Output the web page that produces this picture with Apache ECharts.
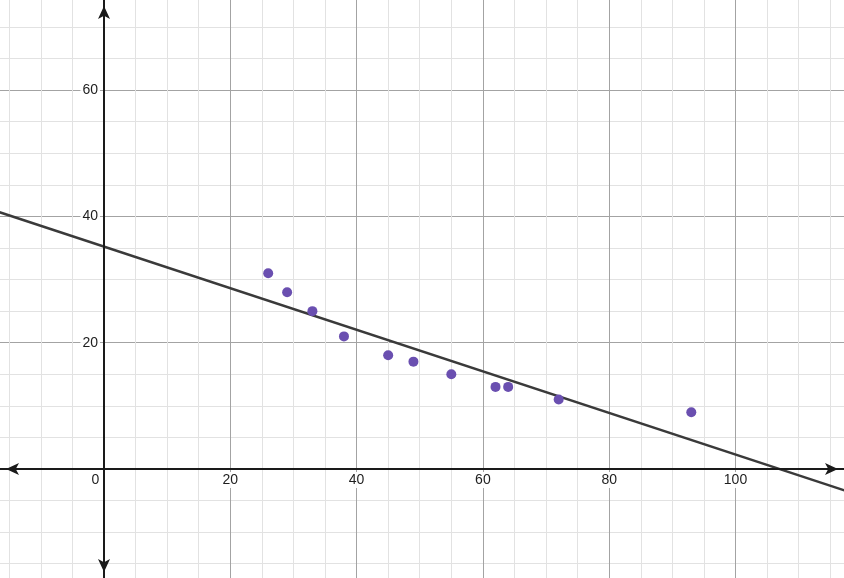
<!DOCTYPE html>
<html>
<head>
<meta charset="utf-8">
<script src="https://cdn.jsdelivr.net/npm/echarts@6/dist/echarts.min.js"></script>
<style>
html,body{margin:0;padding:0;background:#fff;}
#chart{width:844px;height:578px;}
</style>
</head>
<body>
<div id="chart"></div>
<script>
// Data
const pointX = [26, 29, 33, 38, 45, 49, 55, 62, 64, 72, 93];
const pointY = [31, 28, 25, 21, 18, 17, 15, 13, 13, 11, 9];
// Trend line endpoints
const lineX = [-20, 120];
const lineY = [41.8, -4.3];
// Axis tick labels
const xTicks = [0, 20, 40, 60, 80, 100];
const yTicks = [20, 40, 60];

const scatterData = pointX.map((x, i) => [x, pointY[i]]);
const lineData = lineX.map((x, i) => [x, lineY[i]]);

const X_MIN = -16.47, X_MAX = 117.18, Y_MIN = -17.26, Y_MAX = 74.27;

const labelFont = {
  fontFamily: '"Liberation Sans", Arial, sans-serif',
  fontSize: 14,
  color: '#1e1e1e'
};

const chart = echarts.init(document.getElementById('chart'), null, {renderer: 'canvas'});
chart.setOption({
  animation: false,
  backgroundColor: '#fff',
  grid: [
    {left: -22.3, right: -17.8, top: -36.2, bottom: -17.3, containLabel: false, outerBoundsMode: 'none'},
    {left: 0, right: 0, top: 0, bottom: 0, containLabel: false, outerBoundsMode: 'none'}
  ],
  xAxis: [
    {
      type: 'value', gridIndex: 0, min: -20, max: 120, interval: 20,
      axisLine: {show: false},
      axisTick: {show: false},
      axisLabel: {show: false},
      minorTick: {show: false, splitNumber: 4},
      splitLine: {show: true, lineStyle: {color: '#a3a3a3', width: 1}},
      minorSplitLine: {show: true, lineStyle: {color: '#e2e2e2', width: 1}}
    },
    {
      type: 'value', gridIndex: 1, min: X_MIN, max: X_MAX,
      axisLine: {show: true, onZero: true, lineStyle: {color: '#1a1a1a', width: 2},
        symbol: ['arrow', 'arrow'], symbolSize: [9, 13], symbolOffset: [6, -6]},
      axisTick: {show: false}, splitLine: {show: false}, axisLabel: {show: false},
      z: 5
    },
    {
      type: 'value', gridIndex: 1, min: X_MIN, max: X_MAX, position: 'bottom', offset: -109,
      axisLine: {show: false, onZero: false},
      axisTick: {show: false}, splitLine: {show: false},
      axisLabel: Object.assign({
        customValues: xTicks,
        margin: 3,
        hideOverlap: false,
        formatter: v => (v === 0 ? '{z|0}' : '{n|' + v + '}'),
        rich: {
          z: Object.assign({}, labelFont, {padding: [1, 17, 1, 0]}),
          n: Object.assign({}, labelFont, {padding: [1, 2], backgroundColor: 'rgba(255,255,255,0.95)'})
        }
      }, labelFont),
      z: 6
    }
  ],
  yAxis: [
    {
      type: 'value', gridIndex: 0, min: -20, max: 80, interval: 20,
      axisLine: {show: false},
      axisTick: {show: false},
      axisLabel: {show: false},
      minorTick: {show: false, splitNumber: 4},
      splitLine: {show: true, lineStyle: {color: '#a3a3a3', width: 1}},
      minorSplitLine: {show: true, lineStyle: {color: '#e2e2e2', width: 1}}
    },
    {
      type: 'value', gridIndex: 1, min: Y_MIN, max: Y_MAX,
      axisLine: {show: true, onZero: true, lineStyle: {color: '#1a1a1a', width: 2},
        symbol: ['arrow', 'arrow'], symbolSize: [9, 13], symbolOffset: [6, -6]},
      axisTick: {show: false}, splitLine: {show: false}, axisLabel: {show: false},
      z: 5
    },
    {
      type: 'value', gridIndex: 1, min: Y_MIN, max: Y_MAX, position: 'left', offset: -104,
      axisLine: {show: false, onZero: false},
      axisTick: {show: false}, splitLine: {show: false},
      axisLabel: Object.assign({
        customValues: yTicks,
        margin: 4,
        padding: [1, 2],
        backgroundColor: 'rgba(255,255,255,0.95)',
        hideOverlap: false,
        formatter: v => String(v)
      }, labelFont),
      z: 6
    }
  ],
  series: [
    {
      type: 'line', xAxisIndex: 0, yAxisIndex: 0,
      data: lineData, symbol: 'none', z: 3,
      lineStyle: {color: '#3a3a3a', width: 2.5}
    },
    {
      type: 'scatter', xAxisIndex: 0, yAxisIndex: 0,
      data: scatterData, symbolSize: 10, z: 4,
      itemStyle: {color: '#6a4fb0', opacity: 1}
    }
  ]
});
</script>
</body>
</html>
